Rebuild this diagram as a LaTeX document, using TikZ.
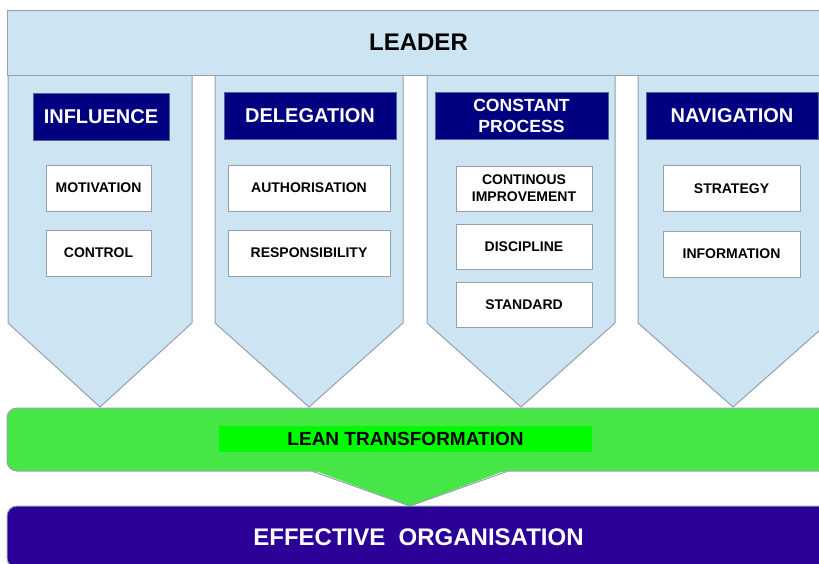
\documentclass[tikz,border=0pt]{standalone}
\usepackage{fontspec}
\setmainfont{Liberation Sans}
\usetikzlibrary{positioning}

\definecolor{pillarblue}{RGB}{205,228,242}
\definecolor{edgegray}{RGB}{150,160,170}
\definecolor{headnavy}{RGB}{0,0,128}
\definecolor{headedge}{RGB}{80,100,150}
\definecolor{bandgreen}{RGB}{70,230,70}
\definecolor{limegreen}{RGB}{0,250,0}
\definecolor{orgindigo}{RGB}{42,0,150}

\begin{document}
\begin{tikzpicture}[x = 0.5pt, y = -0.5pt,
		pillar/.style = {fill = pillarblue, draw = edgegray, line width = 0.5pt},
		header/.style = {fill = headnavy, draw = headedge, text = white, font = \bfseries\fontsize{10}{12}\selectfont, align = center, inner sep = 0pt, minimum height = 23.5pt},
		item/.style = {fill = white, draw = edgegray, font = \bfseries\fontsize{7}{8.5}\selectfont, align = center, inner sep = 0pt, minimum height = 23pt}]
			\useasboundingbox (0, 0) rectangle (819, 563);
			\clip (0, 0) rectangle (819, 563);
			\foreach \l/\r/\t in {8/192/100, 215/403/309, 427/615/521, 638/828/733}
				\filldraw[pillar] (\l, 75) -- (\l, 323) -- (\t, 407) -- (\r, 323) -- (\r, 75) -- cycle;
			\node[pillar, minimum width = 411.5pt, minimum height = 32.5pt, font = \bfseries\fontsize{12}{14}\selectfont] (leader) at (418.5, 42.5) {LEADER};
			\node[header, minimum width = 68pt] (influence) at (101, 116.5) {INFLUENCE};
			\node[header, minimum width = 86pt] (delegation) at (310, 115.5) {DELEGATION};
			\node[header, minimum width = 86.5pt, font = \bfseries\fontsize{8.8}{10.5}\selectfont] (process) at (521.5, 115.5) {CONSTANT\\PROCESS};
			\node[header, minimum width = 86pt] (navigation) at (732, 115.5) {NAVIGATION};
			\node[item, minimum width = 52.5pt] (motivation) at (98.5, 188) {MOTIVATION};
			\node[item, minimum width = 52.5pt] (control) at (98.5, 253) {CONTROL};
			\node[item, minimum width = 81pt] (authorisation) at (309, 188) {AUTHORISATION};
			\node[item, minimum width = 81pt] (responsibility) at (309, 253) {RESPONSIBILITY};
			\node[item, minimum width = 68pt, minimum height = 22.5pt] (improvement) at (524, 188.5) {CONTINOUS\\IMPROVEMENT};
			\node[item, minimum width = 68pt, minimum height = 22.5pt] (discipline) at (524, 246.5) {DISCIPLINE};
			\node[item, minimum width = 68pt, minimum height = 22.5pt] (standard) at (524, 305) {STANDARD};
			\node[item, minimum width = 68.5pt] (strategy) at (731.5, 188.5) {STRATEGY};
			\node[item, minimum width = 68.5pt] (information) at (731.5, 254) {INFORMATION};
			\node[fill = bandgreen, draw = edgegray, line width = 0.5pt, rounded corners = 5pt, minimum width = 411.5pt, minimum height = 31.5pt] (band) at (418.5, 439.5) {};
			\node[fill = limegreen, inner sep = 0pt, minimum width = 186.5pt, minimum height = 13pt, font = \bfseries\fontsize{9.5}{11}\selectfont] (lean) at (405.5, 439) {LEAN TRANSFORMATION};
			\fill[bandgreen] (313, 470) -- (410, 506) -- (507, 470) -- cycle;
			\draw[edgegray, line width = 0.5pt] (313, 471.5) -- (410, 506) -- (507, 471.5);
			\node[fill = orgindigo, draw = edgegray, line width = 0.5pt, rounded corners = 5pt, minimum width = 411.5pt, minimum height = 31pt, text = white, font = \bfseries\fontsize{12}{14}\selectfont] (organisation) at (418.5, 537) {EFFECTIVE\ \ ORGANISATION};
		\end{tikzpicture}
\end{document}
